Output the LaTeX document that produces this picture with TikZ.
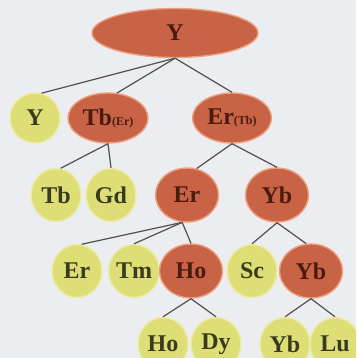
\documentclass[tikz,border=0pt]{standalone}
\usepackage{fontspec}
\setmainfont{Liberation Serif}
\usepackage{xcolor}
\usetikzlibrary{shapes.geometric}

\definecolor{bgcol}{RGB}{236,237,241}
\definecolor{redfill}{RGB}{200,99,70}
\definecolor{redrim}{RGB}{236,160,128}
\definecolor{redtext}{RGB}{74,28,16}
\definecolor{yelfill}{RGB}{221,223,118}
\definecolor{yelrim}{RGB}{236,236,168}
\definecolor{yeltext}{RGB}{60,58,30}
\definecolor{linecol}{RGB}{80,80,80}

\begin{document}
\begin{tikzpicture}[
  x=1pt, y=-1pt,
  font=\fontsize{24}{27}\selectfont\bfseries,
  parent/.style={ellipse, draw=redrim, line width=1.4pt, fill=redfill, text=redtext, inner sep=0pt, minimum width=63pt, minimum height=54pt},
  leaf/.style={ellipse, draw=yelrim, line width=1.4pt, fill=yelfill, text=yeltext, inner sep=0pt, minimum width=50pt, minimum height=53pt},
  link/.style={draw=linecol, line width=1.2pt}
]
  \clip (0,0) rectangle (356,358);
  \fill[bgcol] (0,0) rectangle (356,358);

  \node[parent, minimum width=166pt, minimum height=49pt] at (175,33) (root) {Y};

  \node[leaf, minimum height=50pt] at (35,118) (yleaf) {Y};
  \node[parent, minimum width=80pt, minimum height=50pt] at (108,118) (tber) {Tb{\fontsize{12}{13}\selectfont(Er)}};
  \node[parent, minimum width=79pt, minimum height=50pt] at (232,118) (ertb) {Er{\fontsize{12}{13}\selectfont(Tb)}};

  \node[leaf] at (56,195) (tbleaf) {Tb};
  \node[leaf] at (111,195) (gdleaf) {Gd};
  \node[parent] at (187,195) (er) {Er};
  \node[parent] at (277,195) (yb) {Yb};

  \node[leaf] at (77,271) (erleaf) {Er};
  \node[leaf] at (134,271) (tmleaf) {Tm};
  \node[parent] at (191,271) (ho) {Ho};
  \node[leaf] at (252,271) (scleaf) {Sc};
  \node[parent] at (311,271) (ybsub) {Yb};

  \node[leaf] at (163,344) (holeaf) {Ho};
  \node[leaf] at (216,344) (dyleaf) {Dy};
  \node[leaf] at (285,344) (ybleaf) {Yb};
  \node[leaf] at (335,344) (luleaf) {Lu};

  \draw[link] (root.south) -- (yleaf.75);
  \draw[link] (root.south) -- (tber.70);
  \draw[link] (root.south) -- (ertb.north);
  \draw[link] (tber.south) -- (tbleaf.80);
  \draw[link] (tber.south) -- (gdleaf.north);
  \draw[link] (ertb.south) -- (er.70);
  \draw[link] (ertb.south) -- (yb.north);
  \draw[link] (er.-100) -- (erleaf.80);
  \draw[link] (er.-100) -- (tmleaf.north);
  \draw[link] (er.-100) -- (ho.north);
  \draw[link] (yb.south) -- (scleaf.north);
  \draw[link] (yb.south) -- (ybsub.100);
  \draw[link] (ho.south) -- (holeaf.north);
  \draw[link] (ho.south) -- (dyleaf.north);
  \draw[link] (ybsub.south) -- (ybleaf.north);
  \draw[link] (ybsub.south) -- (luleaf.north);
\end{tikzpicture}
\end{document}
